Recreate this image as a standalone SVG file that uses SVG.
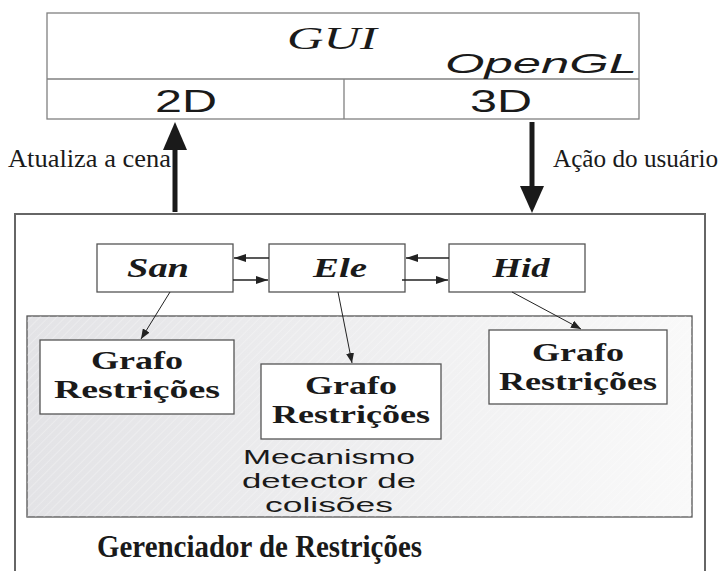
<svg xmlns="http://www.w3.org/2000/svg" width="720" height="571" viewBox="0 0 720 571">
<style>
.box{fill:#ffffff;stroke:#555;stroke-width:1.3}
.gui{fill:none;stroke:#808080;stroke-width:1.3}
.ser{font-family:"Liberation Serif",serif;fill:#1a1a1a}
.san{font-family:"Liberation Sans",sans-serif;fill:#1a1a1a}
.lbl{font-family:"Liberation Serif",serif;font-weight:bold;font-style:italic;font-size:27px;fill:#1a1a1a;text-anchor:middle}
.gr{font-family:"Liberation Serif",serif;font-weight:bold;font-size:25px;fill:#1a1a1a;text-anchor:middle}
.thin{stroke:#222;stroke-width:1;fill:none}
.ar{stroke:#222;stroke-width:1.3;fill:none}
</style>
<defs>
<marker id="ah" viewBox="0 0 12 8" refX="12" refY="4" markerWidth="12" markerHeight="8" markerUnits="userSpaceOnUse" orient="auto">
<path d="M0,0 L12,4 L0,8 Z" fill="#222"/>
</marker>
<marker id="sh" viewBox="0 0 10 8" refX="10" refY="4" markerWidth="10" markerHeight="8" markerUnits="userSpaceOnUse" orient="auto">
<path d="M0,0 L10,4 L0,8 Z" fill="#222"/>
</marker>
<linearGradient id="shade" x1="0" y1="0" x2="1" y2="0">
<stop offset="0" stop-color="#e3e3e6"/>
<stop offset="1" stop-color="#f9f9f9"/>
</linearGradient>
<pattern id="hatch" width="6" height="6" patternUnits="userSpaceOnUse" patternTransform="rotate(45)">
<line x1="0" y1="0" x2="0" y2="6" stroke="#ffffff" stroke-width="1.5" stroke-opacity="0.35"/>
</pattern>
</defs>

<g id="gui">
<rect class="gui" x="47" y="13" width="592" height="106"/>
<line class="gui" x1="47" y1="79" x2="639" y2="79"/>
<line class="gui" x1="344" y1="79" x2="344" y2="119"/>
<text class="ser" x="332" y="49" font-size="31" font-style="italic" text-anchor="middle" textLength="90" lengthAdjust="spacingAndGlyphs">GUI</text>
<text class="san" x="445" y="73" font-size="28" font-style="italic" textLength="192" lengthAdjust="spacingAndGlyphs">OpenGL</text>
<text class="san" x="155" y="112" font-size="31" textLength="62" lengthAdjust="spacingAndGlyphs">2D</text>
<text class="san" x="470" y="112" font-size="31" textLength="62" lengthAdjust="spacingAndGlyphs">3D</text>
</g>

<g id="labels">
<text class="ser" x="8" y="167" font-size="25" textLength="163" lengthAdjust="spacingAndGlyphs">Atualiza a cena</text>
<text class="ser" x="553" y="167" font-size="25" textLength="165" lengthAdjust="spacingAndGlyphs">Ação do usuário</text>
</g>

<g id="gerenciador">
<path d="M15,575 L15,214 L705,214 L705,575" fill="none" stroke="#666" stroke-width="2"/>
<text class="ser" x="97" y="557" font-size="32" font-weight="bold" textLength="325" lengthAdjust="spacingAndGlyphs">Gerenciador de Restrições</text>
</g>

<g id="colisoes">
<rect x="27" y="316" width="665" height="201" fill="url(#shade)" stroke="#555" stroke-width="1.3"/>
<rect x="27" y="316" width="665" height="201" fill="url(#hatch)"/>
<g class="san" font-size="20" text-anchor="middle">
<text x="329" y="464" textLength="172" lengthAdjust="spacingAndGlyphs">Mecanismo</text>
<text x="329" y="488" textLength="174" lengthAdjust="spacingAndGlyphs">detector de</text>
<text x="329" y="512" textLength="128" lengthAdjust="spacingAndGlyphs">colisões</text>
</g>
</g>

<g id="san">
<rect class="box" x="97" y="244" width="136" height="48"/>
<text class="lbl" x="158" y="277" textLength="62" lengthAdjust="spacingAndGlyphs">San</text>
</g>
<g id="ele">
<rect class="box" x="269" y="244" width="136" height="48"/>
<text class="lbl" x="340" y="277" textLength="54" lengthAdjust="spacingAndGlyphs">Ele</text>
</g>
<g id="hid">
<rect class="box" x="449" y="244" width="136" height="48"/>
<text class="lbl" x="521" y="277" textLength="57" lengthAdjust="spacingAndGlyphs">Hid</text>
</g>

<g id="grafo1">
<rect class="box" x="40" y="340" width="194" height="74"/>
<text class="gr" x="137" y="369" textLength="92" lengthAdjust="spacingAndGlyphs">Grafo</text>
<text class="gr" x="137" y="398" textLength="166" lengthAdjust="spacingAndGlyphs">Restrições</text>
</g>
<g id="grafo2">
<rect class="box" x="261" y="364" width="180" height="75"/>
<text class="gr" x="351" y="394" textLength="92" lengthAdjust="spacingAndGlyphs">Grafo</text>
<text class="gr" x="351" y="423" textLength="158" lengthAdjust="spacingAndGlyphs">Restrições</text>
</g>
<g id="grafo3">
<rect class="box" x="489" y="330" width="178" height="74"/>
<text class="gr" x="578" y="361" textLength="92" lengthAdjust="spacingAndGlyphs">Grafo</text>
<text class="gr" x="578" y="390" textLength="158" lengthAdjust="spacingAndGlyphs">Restrições</text>
</g>

<g id="connectors">
<line x1="175" y1="212" x2="175" y2="148" stroke="#1a1a1a" stroke-width="5"/>
<path d="M163,150 L175,122 L187,150 Z" fill="#1a1a1a"/>
<line x1="532" y1="122" x2="532" y2="188" stroke="#1a1a1a" stroke-width="5"/>
<path d="M520,186 L532,213 L544,186 Z" fill="#1a1a1a"/>
<line class="ar" x1="269" y1="258" x2="234" y2="258" marker-end="url(#ah)"/>
<line class="ar" x1="233" y1="280" x2="268" y2="280" marker-end="url(#ah)"/>
<line class="ar" x1="449" y1="258" x2="406" y2="258" marker-end="url(#ah)"/>
<line class="ar" x1="402" y1="280" x2="448" y2="280" marker-end="url(#ah)"/>
<line class="thin" x1="170" y1="292" x2="141" y2="339" marker-end="url(#sh)"/>
<line class="thin" x1="338" y1="292" x2="352" y2="363" marker-end="url(#sh)"/>
<line class="thin" x1="512" y1="292" x2="581" y2="329" marker-end="url(#sh)"/>
</g>
</svg>
